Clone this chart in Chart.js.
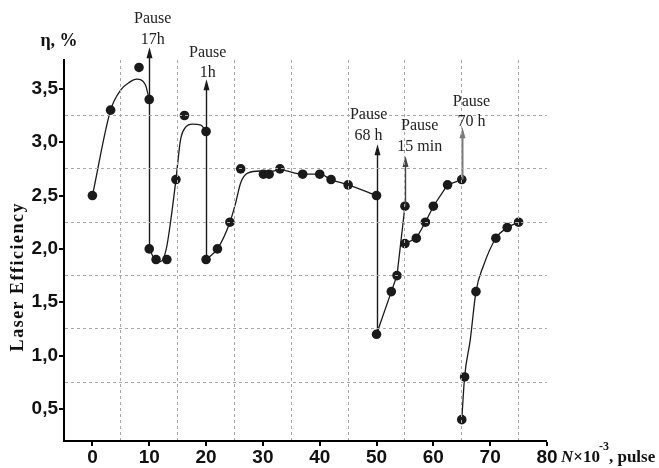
<!DOCTYPE html>
<html>
<head>
<meta charset="utf-8">
<script src="https://cdn.jsdelivr.net/npm/chart.js@4.4.1/dist/chart.umd.min.js"></script>
<style>
  html, body { margin: 0; padding: 0; background: #fff; }
  #wrap { width: 659px; height: 468px; }
</style>
</head>
<body>
<div id="wrap"><canvas id="chart"></canvas></div>
<script>
// measured points, one run per array pair (N x 10^-3 pulses / efficiency %)
const run1X = [0, 3.2, 8.2, 10];
const run1Y = [2.5, 3.3, 3.7, 3.4];
const run2X = [10, 11.2, 13.1, 14.7, 16.2, 20];
const run2Y = [2.0, 1.9, 1.9, 2.65, 3.25, 3.1];
const run3X = [20, 22, 24.2, 26.1, 30.1, 31.1, 33, 37, 40, 42, 45, 50];
const run3Y = [1.9, 2.0, 2.25, 2.75, 2.7, 2.7, 2.75, 2.7, 2.7, 2.65, 2.6, 2.5];
const run4X = [50, 52.6, 53.6, 55];
const run4Y = [1.2, 1.6, 1.75, 2.4];
const run5X = [55, 57, 58.6, 60, 62.5, 65];
const run5Y = [2.05, 2.1, 2.25, 2.4, 2.6, 2.65];
const run6X = [65, 65.5, 67.5, 71, 73, 75];
const run6Y = [0.4, 0.8, 1.6, 2.1, 2.2, 2.25];

// fitted guide curves
const fit1X = [0, 3.2, 5, 6.5, 7.8, 9.3, 10];
const fit1Y = [2.5, 3.3, 3.49, 3.56, 3.59, 3.54, 3.4];
const fit2X = [10, 11, 12, 13, 14, 14.7, 15.5, 16.4, 17.6, 19.1, 20];
const fit2Y = [2.0, 1.9, 1.88, 2.0, 2.35, 2.65, 3.02, 3.14, 3.17, 3.16, 3.1];
const fit3X = [20, 22, 24.2, 25.2, 26.1, 27.3, 29.6, 31, 33, 37, 40, 42, 45, 50];
const fit3Y = [1.9, 2.0, 2.25, 2.43, 2.62, 2.71, 2.73, 2.72, 2.74, 2.7, 2.7, 2.65, 2.6, 2.5];
const fit6X = [65, 65.5, 66.5, 67.5, 68.8, 71, 73, 75];
const fit6Y = [0.4, 0.8, 1.15, 1.6, 1.84, 2.1, 2.2, 2.25];

// pauses: arrow at x, from lower point up to tip
const pauseX = [10, 20, 50, 55, 65];
const pauseFromY = [2.0, 1.9, 1.2, 2.4, 2.65];
const pauseToY = [3.89, 3.59, 2.98, 2.87, 3.14];
const pauseText = ['17h', '1h', '68 h', '15 min', '70 h'];
const pauseLabelAt = [[10.6, 3.96], [20.3, 3.65], [48.6, 3.06], [57.6, 2.96], [66.7, 3.19]];

const xTicks = [0, 10, 20, 30, 40, 50, 60, 70, 80];
const yTicks = [0.5, 1.0, 1.5, 2.0, 2.5, 3.0, 3.5];

const near = (a, b) => Math.abs(a - b) < 1e-6;
const pairs = (xs, ys) => xs.map((v, i) => ({x: v, y: ys[i]}));

const INK = '#1a1a1a';
const GRID = '#a8a8a8';

function pointSet(xs, ys) {
  return { type: 'scatter', data: pairs(xs, ys), order: 0, showLine: false,
           pointRadius: 4.8, pointHoverRadius: 4.8, pointBackgroundColor: INK, pointBorderWidth: 0 };
}
function curveSet(xs, ys, smooth) {
  return { type: 'line', data: pairs(xs, ys), order: 1, pointRadius: 0, borderColor: INK,
           borderWidth: 1.3, fill: false, tension: 0,
           cubicInterpolationMode: smooth ? 'monotone' : 'default' };
}

const pausePlugin = {
  id: 'pauses',
  afterDatasetsDraw(chart) {
    const {ctx, scales: {x, y}} = chart;
    ctx.save();
    pauseX.forEach((v, i) => {
      const px = Math.round(x.getPixelForValue(v)) + 0.5;
      const y0 = y.getPixelForValue(pauseFromY[i]);
      const y1 = y.getPixelForValue(pauseToY[i]);
      const col = i === 4 ? '#7a7a7a' : (i === 3 ? '#444' : INK);
      ctx.strokeStyle = col; ctx.fillStyle = col;
      ctx.lineWidth = i === 4 ? 2 : 1.4;
      ctx.beginPath(); ctx.moveTo(px, y0); ctx.lineTo(px, y1 + 6); ctx.stroke();
      ctx.beginPath(); ctx.moveTo(px, y1); ctx.lineTo(px - 3, y1 + 11); ctx.lineTo(px + 3, y1 + 11);
      ctx.closePath(); ctx.fill();
    });
    ctx.restore();
  },
  afterDraw(chart) {
    const {ctx, chartArea, scales: {x, y}} = chart;
    ctx.save();
    ctx.fillStyle = '#222';
    ctx.textAlign = 'center';
    ctx.textBaseline = 'middle';
    ctx.font = '16px "Liberation Serif", "Times New Roman", serif';
    pauseLabelAt.forEach((p, i) => {
      const px = x.getPixelForValue(p[0]);
      const py = y.getPixelForValue(p[1]);
      ctx.fillText('Pause', px, py - 20.5);
      ctx.fillText(pauseText[i], px, py);
    });

    // axis titles
    ctx.fillStyle = '#111';
    ctx.font = 'bold 18px "Liberation Serif", serif';
    ctx.fillText('η, %', chartArea.left - 5, chartArea.top - 19);

    ctx.save();
    ctx.translate(18.5, y.getPixelForValue(1.74));
    ctx.rotate(-Math.PI / 2);
    ctx.font = 'bold 18px "Liberation Serif", serif';
    if ('letterSpacing' in ctx) ctx.letterSpacing = '1.5px';
    ctx.fillText('Laser Efficiency', 0, 0);
    ctx.restore();

    ctx.textAlign = 'left';
    ctx.textBaseline = 'alphabetic';
    let tx = x.getPixelForValue(80) + 14;
    const base = 462;
    ctx.font = 'italic bold 17px "Liberation Serif", serif';
    ctx.fillText('N', tx, base);
    tx += ctx.measureText('N').width;
    ctx.font = 'bold 17px "Liberation Serif", serif';
    ctx.fillText('×10', tx, base);
    tx += ctx.measureText('×10').width;
    ctx.font = 'bold 12px "Liberation Serif", serif';
    ctx.fillText('-3', tx - 1, base - 12);
    tx += ctx.measureText('-3').width - 1;
    ctx.font = 'bold 17px "Liberation Serif", serif';
    ctx.fillText(', pulse', tx, base);
    ctx.restore();
  }
};

const tickFont = { family: '"Liberation Sans", Arial, sans-serif', size: 19, weight: 'bold' };

new Chart(document.getElementById('chart'), {
  data: {
    datasets: [
      pointSet(run1X, run1Y), pointSet(run2X, run2Y), pointSet(run3X, run3Y),
      pointSet(run4X, run4Y), pointSet(run5X, run5Y), pointSet(run6X, run6Y),
      curveSet(fit1X, fit1Y, true), curveSet(fit2X, fit2Y, true), curveSet(fit3X, fit3Y, true),
      curveSet(run4X, run4Y, false), curveSet(run5X, run5Y, false), curveSet(fit6X, fit6Y, true)
    ]
  },
  options: {
    responsive: true,
    maintainAspectRatio: false,
    animation: false,
    layout: { padding: { top: 60, right: 112, left: 0, bottom: 0 } },
    plugins: { legend: { display: false }, tooltip: { enabled: false } },
    scales: {
      x: {
        type: 'linear', min: -5, max: 80,
        ticks: {
          stepSize: 5, color: '#111', font: tickFont, padding: 0, maxRotation: 0, autoSkip: false,
          callback: v => xTicks.some(t => near(t, v)) ? String(v) : ''
        },
        grid: {
          z: 1, tickLength: 5, tickColor: '#000',
          color: GRID,
          lineWidth: c => (c.tick && c.tick.value > 0 && near(c.tick.value % 10, 5)) ? 1 : 0,
          tickWidth: c => (c.tick && xTicks.some(t => near(t, c.tick.value))) ? 2 : 0
        },
        border: { color: '#000', width: 2, dash: [3, 3], z: 1 },
        afterFit: s => { s.height = 27; }
      },
      y: {
        type: 'linear', min: 0.2, max: 3.77,
        ticks: {
          stepSize: 0.25, color: '#111', font: tickFont, padding: 1, autoSkip: false,
          callback: v => yTicks.some(t => near(t, v)) ? v.toFixed(1).replace('.', ',') : ''
        },
        grid: {
          z: 1, tickLength: 5, tickColor: '#000',
          color: GRID,
          lineWidth: c => {
            const v = c.tick ? c.tick.value : 0;
            return (v > 0.6 && v < 3.4 && near((v * 4) % 2, 1)) ? 1 : 0;
          },
          tickWidth: c => (c.tick && (yTicks.some(t => near(t, c.tick.value)) || near(c.tick.value, 0.25) || near(c.tick.value, 3.75))) ? 2 : 0
        },
        border: { color: '#000', width: 2, dash: [3, 3], z: 1 },
        afterFit: s => { s.width = 64; }
      }
    }
  },
  plugins: [pausePlugin]
});
</script>
</body>
</html>
